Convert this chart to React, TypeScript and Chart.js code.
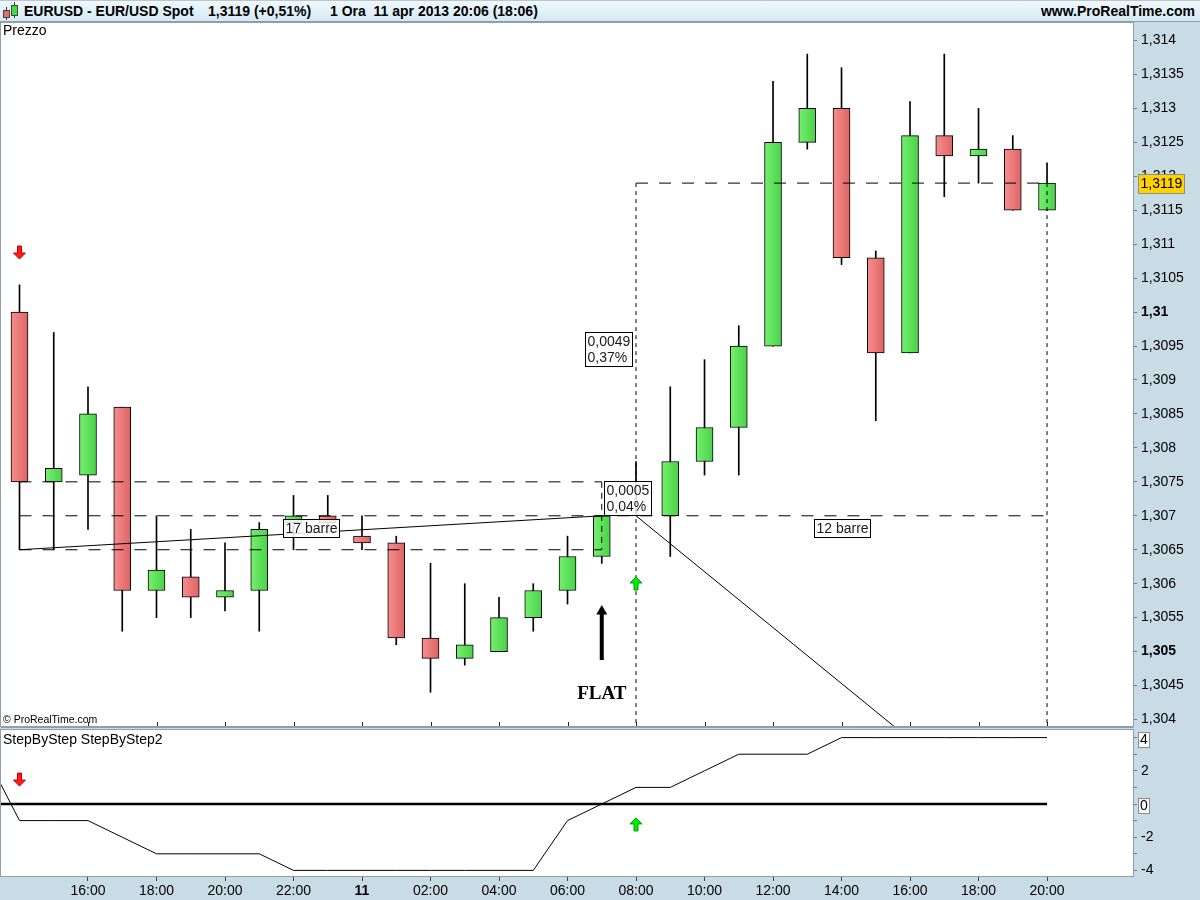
import React, { useEffect, useRef } from 'react';
import { Chart, registerables } from 'chart.js';

Chart.register(...registerables);

// ---------------- DATA ----------------
// hours counted from 10 Apr 2013 00:00 (24 = 11 Apr 00:00)
const hours = [14, 15, 16, 17, 18, 19, 20, 21, 22, 23, 24, 25, 26, 27, 28, 29, 30, 31, 32, 33, 34, 35, 36, 37, 38, 39, 40, 41, 42, 43, 44];
const opens = [1.3100, 1.3075, 1.3076, 1.3086, 1.3059, 1.3061, 1.3058, 1.3059, 1.3069, 1.3070, 1.3067, 1.3066, 1.3052, 1.3049, 1.3050, 1.3055, 1.3059, 1.3064, 1.3070, 1.3070, 1.3078, 1.3083, 1.3095, 1.3125, 1.3130, 1.3108, 1.3094, 1.3126, 1.3123, 1.3124, 1.3115];
const highs = [1.3104, 1.3097, 1.3089, 1.3086, 1.3070, 1.3068, 1.3066, 1.3069, 1.3073, 1.3073, 1.3070, 1.3067, 1.3063, 1.3060, 1.3058, 1.3060, 1.3067, 1.3070, 1.3078, 1.3089, 1.3093, 1.3098, 1.3134, 1.3138, 1.3136, 1.3109, 1.3131, 1.3138, 1.3130, 1.3126, 1.3122];
const lows = [1.3065, 1.3065, 1.3068, 1.3053, 1.3055, 1.3055, 1.3056, 1.3053, 1.3065, 1.3068, 1.3065, 1.3051, 1.3044, 1.3048, 1.3050, 1.3053, 1.3057, 1.3063, 1.3070, 1.3064, 1.3076, 1.3076, 1.3095, 1.3124, 1.3107, 1.3084, 1.3094, 1.3117, 1.3119, 1.3115, 1.3115];
const closes = [1.3075, 1.3077, 1.3085, 1.3059, 1.3062, 1.3058, 1.3059, 1.3068, 1.3070, 1.3069, 1.3066, 1.3052, 1.3049, 1.3051, 1.3055, 1.3059, 1.3064, 1.3070, 1.3070, 1.3078, 1.3083, 1.3095, 1.3125, 1.3130, 1.3108, 1.3094, 1.3126, 1.3123, 1.3124, 1.3115, 1.3119];

const indicatorHours = [13, 14, 15, 16, 17, 18, 19, 20, 21, 22, 23, 24, 25, 26, 27, 28, 29, 30, 31, 32, 33, 34, 35, 36, 37, 38, 39, 40, 41, 42, 43, 44];
const indicatorValues = [3, -1, -1, -1, -2, -3, -3, -3, -3, -4, -4, -4, -4, -4, -4, -4, -4, -1, 0, 1, 1, 2, 3, 3, 3, 4, 4, 4, 4, 4, 4, 4];

const priceTicks = [1.304, 1.3045, 1.305, 1.3055, 1.306, 1.3065, 1.307, 1.3075, 1.308, 1.3085, 1.309, 1.3095, 1.31, 1.3105, 1.311, 1.3115, 1.312, 1.3125, 1.313, 1.3135, 1.314];
const boldPriceTicks = [1.31, 1.305];
const timeTicks = [16, 18, 20, 22, 24, 26, 28, 30, 32, 34, 36, 38, 40, 42, 44];
const timeTickLabels = ['16:00', '18:00', '20:00', '22:00', '11', '02:00', '04:00', '06:00', '08:00', '10:00', '12:00', '14:00', '16:00', '18:00', '20:00'];
const indicatorTicks = [-4, -3, -2, -1, 0, 1, 2, 3, 4];
const indicatorLabelled = [-4, -2, 2];
const indicatorBoxed = [4, 0];

// drawings on the price panel
const trendLine1 = [[14, 1.3065], [31, 1.3070]];
const trendLine2 = [[32, 1.3070], [44, 1.30206]];
const rangeHigh = 1.3075;
const rangeMid = 1.3070;
const rangeLow = 1.3065;
const rangeStart = 14;
const rangeEnd = 31;
const measureStart = 32;
const measureEnd = 44;
const lastPrice = 1.3119;
const lastPriceLabel = '1,3119';
const sellSignalHour = 14;
const buySignalHour = 32;

// ---------------- LAYOUT CONSTANTS ----------------
const FONT = "'Liberation Sans', Arial, sans-serif";
const X_MIN = 13.46;
const X_MAX = 46.51;
const P_MIN = 1.303904;
const P_MAX = 1.314258;
const I_MIN = -4.337;
const I_MAX = 4.458;
const AXIS_BG = '#c9dce6';
const BORDER = '#8fa0ab';

const fmtPrice = (v: number) => Number(v).toFixed(4).replace(/0+$/, '').replace(/\.$/, '').replace('.', ',');

function bodyColor(c: any) {
  const i = c.dataIndex;
  const up = closes[i] >= opens[i];
  const solid = up ? '#5fe25f' : '#ec7878';
  const chart = c.chart;
  const xs = chart && chart.scales ? chart.scales.x : null;
  if (c.type !== 'data' || !xs || i === undefined) return solid;
  const px = xs.getPixelForValue(hours[i]);
  if (!isFinite(px)) return solid;
  const g = chart.ctx.createLinearGradient(px - 8, 0, px + 8, 0);
  if (up) {
    g.addColorStop(0, '#74ef6c');
    g.addColorStop(1, '#4bd24b');
  } else {
    g.addColorStop(0, '#f78c8c');
    g.addColorStop(1, '#dd6666');
  }
  return g;
}

function drawSignalArrow(ctx: CanvasRenderingContext2D, x: number, yTip: number, dir: number, fill: string, stroke: string) {
  const yTail = yTip - dir * 13;
  const yNeck = yTip - dir * 6;
  ctx.beginPath();
  ctx.moveTo(x - 2, yTail);
  ctx.lineTo(x + 2, yTail);
  ctx.lineTo(x + 2, yNeck);
  ctx.lineTo(x + 6, yNeck);
  ctx.lineTo(x, yTip);
  ctx.lineTo(x - 6, yNeck);
  ctx.lineTo(x - 2, yNeck);
  ctx.closePath();
  ctx.fillStyle = fill;
  ctx.fill();
  ctx.strokeStyle = stroke;
  ctx.lineWidth = 1;
  ctx.stroke();
}

function measureBox(ctx: CanvasRenderingContext2D, lines: string[]) {
  ctx.font = '14px ' + FONT;
  return { w: Math.round(Math.max(...lines.map((l) => ctx.measureText(l).width)) + 4), h: lines.length * 16 + 2 };
}

function boxLabel(ctx: CanvasRenderingContext2D, lines: string[], left: number, top: number) {
  const { w, h } = measureBox(ctx, lines);
  const lh = 16;
  const L = Math.round(left);
  const T = Math.round(top);
  ctx.fillStyle = 'rgba(255,255,255,0.85)';
  ctx.fillRect(L, T, w, h);
  ctx.strokeStyle = '#000';
  ctx.lineWidth = 1;
  ctx.strokeRect(L + 0.5, T + 0.5, w, h);
  ctx.fillStyle = '#1a1a1a';
  ctx.textAlign = 'left';
  ctx.textBaseline = 'middle';
  lines.forEach((l, i) => ctx.fillText(l, L + 2.5, T + 1 + lh * i + lh / 2 + 1));
}

const pricePlugin = {
  id: 'priceDecor',
  beforeDraw(chart: any) {
    const { ctx, chartArea: a } = chart;
    ctx.save();
    ctx.fillStyle = '#fff';
    ctx.fillRect(a.left, a.top, a.right - a.left, a.bottom - a.top);
    ctx.restore();
  },
  afterDatasetsDraw(chart: any) {
    const { ctx, chartArea: a } = chart;
    const xs = chart.scales.x;
    const ys = chart.scales.y;
    const X = (h: number) => xs.getPixelForValue(h);
    const Y = (p: number) => ys.getPixelForValue(p);
    ctx.save();
    ctx.beginPath();
    ctx.rect(a.left, a.top, a.right - a.left, a.bottom - a.top);
    ctx.clip();

    const l17 = ['17 barre'];
    const m17 = measureBox(ctx, l17);
    boxLabel(ctx, l17, X(22.5) - m17.w / 2, Y(1.30682) - m17.h / 2);
    const l12 = ['12 barre'];
    const m12 = measureBox(ctx, l12);
    boxLabel(ctx, l12, X(38) - m12.w / 2, Y(1.30682) - m12.h / 2);
    boxLabel(ctx, ['0,0005', '0,04%'], X(rangeEnd) + 2, Y(rangeHigh) - 1);
    const l49 = ['0,0049', '0,37%'];
    const m49 = measureBox(ctx, l49);
    boxLabel(ctx, l49, X(measureStart) - 4 - m49.w, Y((lastPrice + rangeMid) / 2) - m49.h / 2);

    drawSignalArrow(ctx, X(sellSignalHour), Y(1.310782), 1, '#ff1a1a', '#c00000');
    drawSignalArrow(ctx, X(buySignalHour), Y(1.306099), -1, '#00ee00', '#009a00');

    const fx = X(31);
    const tipY = Y(1.305686);
    const neckY = Y(1.305554);
    const baseY = Y(1.304876);
    ctx.fillStyle = '#000';
    ctx.fillRect(fx - 2, neckY, 4, baseY - neckY);
    ctx.beginPath();
    ctx.moveTo(fx, tipY);
    ctx.lineTo(fx + 5.5, neckY + 0.5);
    ctx.lineTo(fx - 5.5, neckY + 0.5);
    ctx.closePath();
    ctx.fill();
    ctx.font = 'bold 19px "Liberation Serif", "Times New Roman", serif';
    ctx.textAlign = 'center';
    ctx.textBaseline = 'alphabetic';
    ctx.fillText('FLAT', fx, Y(1.304302));

    ctx.restore();
  },
  afterDraw(chart: any) {
    const { ctx, chartArea: a } = chart;
    const xs = chart.scales.x;
    const ys = chart.scales.y;
    ctx.save();
    ctx.strokeStyle = '#222';
    ctx.lineWidth = 1;
    timeTicks.forEach((h) => {
      const x = Math.round(xs.getPixelForValue(h)) + 0.5;
      ctx.beginPath();
      ctx.moveTo(x, a.bottom - 4);
      ctx.lineTo(x, a.bottom);
      ctx.stroke();
    });
    ctx.strokeStyle = BORDER;
    ctx.strokeRect(a.left - 0.5, a.top - 0.5, a.right - a.left + 1, a.bottom - a.top + 1);
    ctx.beginPath();
    ctx.moveTo(a.left, a.bottom + 1.5);
    ctx.lineTo(a.right + 0.5, a.bottom + 1.5);
    ctx.stroke();
    const y = Math.round(ys.getPixelForValue(lastPrice));
    const bx = a.right + 5;
    ctx.fillStyle = '#ffd200';
    ctx.fillRect(bx, y - 9, 46, 19);
    ctx.strokeStyle = '#8c8c8c';
    ctx.strokeRect(bx + 0.5, y - 8.5, 46, 19);
    ctx.fillStyle = '#000';
    ctx.font = '14px ' + FONT;
    ctx.textAlign = 'left';
    ctx.textBaseline = 'middle';
    ctx.fillText(lastPriceLabel, bx + 2.5, y + 1);
    ctx.restore();
  },
};

const indPlugin = {
  id: 'indDecor',
  beforeDraw(chart: any) {
    const { ctx, chartArea: a } = chart;
    ctx.save();
    ctx.fillStyle = '#fff';
    ctx.fillRect(a.left, a.top, a.right - a.left, a.bottom - a.top);
    ctx.restore();
  },
  afterDatasetsDraw(chart: any) {
    const { ctx } = chart;
    const X = (h: number) => chart.scales.x.getPixelForValue(h);
    const Y = (v: number) => chart.scales.y.getPixelForValue(v);
    ctx.save();
    drawSignalArrow(ctx, X(sellSignalHour), Y(1.08), 1, '#ff1a1a', '#c00000');
    drawSignalArrow(ctx, X(buySignalHour), Y(-0.84), -1, '#00ee00', '#009a00');
    ctx.restore();
  },
  afterDraw(chart: any) {
    const { ctx, chartArea: a } = chart;
    const ys = chart.scales.y;
    ctx.save();
    ctx.strokeStyle = BORDER;
    ctx.lineWidth = 1;
    ctx.strokeRect(a.left - 0.5, a.top - 0.5, a.right - a.left + 1, a.bottom - a.top + 1);
    ctx.font = '14px ' + FONT;
    ctx.textAlign = 'left';
    ctx.textBaseline = 'middle';
    indicatorBoxed.forEach((v) => {
      const y = Math.round(ys.getPixelForValue(v)) + 1;
      const bx = a.right + 5;
      const w = Math.round(ctx.measureText(String(v)).width) + 3;
      ctx.fillStyle = '#fff';
      ctx.fillRect(bx, y - 7, w, 15);
      ctx.strokeStyle = '#8c8c8c';
      ctx.strokeRect(bx + 0.5, y - 6.5, w, 15);
      ctx.fillStyle = '#000';
      ctx.fillText(String(v), bx + 2, y + 1);
    });
    ctx.restore();
  },
};

const dashedLine = (pts: number[][], dash: number[], width = 1) => ({
  type: 'line' as const,
  data: pts.map((p) => ({ x: p[0], y: p[1] })),
  borderColor: '#000',
  borderWidth: width,
  borderDash: dash,
  pointRadius: 0,
  tension: 0,
  fill: false,
  order: 0,
});

export default function App() {
  const priceRef = useRef<HTMLCanvasElement>(null);
  const indRef = useRef<HTMLCanvasElement>(null);

  useEffect(() => {
    Chart.defaults.font.family = FONT;
    Chart.defaults.font.size = 14;
    Chart.defaults.color = '#000';

    const pc = new Chart(priceRef.current as HTMLCanvasElement, {
      type: 'bar',
      data: {
        datasets: [
          dashedLine([[rangeStart, rangeHigh], [rangeEnd, rangeHigh]], [12, 11]),
          dashedLine([[rangeStart, rangeLow], [rangeEnd, rangeLow]], [12, 11]),
          dashedLine([[rangeEnd, rangeHigh], [rangeEnd, rangeLow]], [6, 5]),
          dashedLine([[rangeStart, rangeMid], [measureEnd, rangeMid]], [12, 11]),
          dashedLine([[measureStart, lastPrice], [measureEnd, lastPrice]], [12, 11]),
          dashedLine([[measureStart, lastPrice], [measureStart, 1.3035]], [4, 4]),
          dashedLine([[measureEnd, lastPrice], [measureEnd, 1.3035]], [4, 4]),
          dashedLine(trendLine1, []),
          dashedLine(trendLine2, []),
          {
            label: 'wicks',
            data: hours.map((h, i) => ({ x: h, y: [lows[i], highs[i]] })),
            backgroundColor: '#000',
            borderWidth: 0,
            barThickness: 1,
            grouped: false,
            order: 2,
          } as any,
          {
            label: 'bodies',
            data: hours.map((h, i) => ({ x: h, y: [opens[i], closes[i]] })),
            backgroundColor: bodyColor,
            borderColor: '#000',
            borderWidth: 1,
            borderSkipped: false,
            barThickness: 17,
            grouped: false,
            order: 1,
          } as any,
        ] as any,
      },
      options: {
        responsive: false,
        animation: false,
        events: [],
        layout: { padding: { left: 1, top: 1, right: 0, bottom: 2 }, autoPadding: false } as any,
        plugins: { legend: { display: false }, tooltip: { enabled: false } },
        scales: {
          x: { type: 'linear', min: X_MIN, max: X_MAX, offset: false, display: false },
          y: {
            type: 'linear',
            position: 'right',
            min: P_MIN,
            max: P_MAX,
            afterBuildTicks: (s: any) => {
              s.ticks = priceTicks.map((v) => ({ value: v }));
            },
            afterFit: (s: any) => {
              s.width = 67;
              s.paddingTop = 0;
              s.paddingBottom = 0;
            },
            grid: { drawOnChartArea: false, tickLength: 4, color: '#7a7a7a' },
            border: { display: false },
            ticks: {
              autoSkip: false,
              padding: 4,
              color: '#000',
              callback: (v: any) => fmtPrice(Number(v)),
              font: (c: any) => ({
                family: FONT,
                size: 14,
                weight: c.tick && boldPriceTicks.some((b) => Math.abs(b - c.tick.value) < 1e-7) ? 'bold' : 'normal',
              }),
            },
          } as any,
        },
      },
      plugins: [pricePlugin],
    });

    const ic = new Chart(indRef.current as HTMLCanvasElement, {
      type: 'line',
      data: {
        datasets: [
          {
            data: indicatorHours.map((h, i) => ({ x: h, y: indicatorValues[i] })),
            borderColor: '#000',
            borderWidth: 1,
            pointRadius: 0,
            tension: 0,
          },
          {
            data: [{ x: X_MIN, y: 0 }, { x: measureEnd, y: 0 }],
            borderColor: '#000',
            borderWidth: 2.5,
            pointRadius: 0,
            tension: 0,
          },
        ] as any,
      },
      options: {
        responsive: false,
        animation: false,
        events: [],
        layout: { padding: { left: 1, top: 2, right: 0, bottom: 0 }, autoPadding: false } as any,
        plugins: { legend: { display: false }, tooltip: { enabled: false } },
        scales: {
          x: {
            type: 'linear',
            position: 'bottom',
            min: X_MIN,
            max: X_MAX,
            afterBuildTicks: (s: any) => {
              s.ticks = timeTicks.map((v) => ({ value: v }));
            },
            afterFit: (s: any) => {
              s.height = 24;
              s.paddingLeft = 0;
              s.paddingRight = 0;
            },
            grid: { drawOnChartArea: false, tickLength: 5, color: '#444' },
            border: { display: false },
            ticks: {
              autoSkip: false,
              maxRotation: 0,
              padding: 2,
              color: '#000',
              callback: (_v: any, i: number) => timeTickLabels[i],
              font: (c: any) => ({ family: FONT, size: 14, weight: c.tick && c.tick.value === 24 ? 'bold' : 'normal' }),
            },
          } as any,
          y: {
            type: 'linear',
            position: 'right',
            min: I_MIN,
            max: I_MAX,
            afterBuildTicks: (s: any) => {
              s.ticks = indicatorTicks.map((v) => ({ value: v }));
            },
            afterFit: (s: any) => {
              s.width = 67;
              s.paddingTop = 0;
              s.paddingBottom = 0;
            },
            grid: { drawOnChartArea: false, tickLength: 4, color: '#7a7a7a' },
            border: { display: false },
            ticks: {
              autoSkip: false,
              padding: 4,
              color: '#000',
              font: { family: FONT, size: 14 },
              callback: (v: any) => (indicatorLabelled.includes(Number(v)) ? String(v) : ''),
            },
          } as any,
        },
      },
      plugins: [indPlugin],
    });

    return () => {
      pc.destroy();
      ic.destroy();
    };
  }, []);

  const txt: React.CSSProperties = { position: 'absolute', whiteSpace: 'pre', color: '#000' };

  return (
    <div
      style={{
        position: 'fixed',
        left: 0,
        top: 0,
        width: 1200,
        height: 900,
        background: AXIS_BG,
        fontFamily: FONT,
        overflow: 'hidden',
      }}
    >
      <div
        style={{
          position: 'absolute',
          left: 0,
          top: 0,
          width: 1200,
          height: 22,
          boxSizing: 'border-box',
          borderTop: '1px solid #b9c6cc',
          borderBottom: '1px solid #8d9ea8',
          background: 'linear-gradient(to bottom, #f0f9fd 0%, #d3e9f3 100%)',
        }}
      >
        <div style={{ position: 'absolute', left: 6, top: 6, width: 1, height: 13, background: '#333' }} />
        <div style={{ position: 'absolute', left: 3, top: 9, width: 5, height: 6, background: '#e86a6a', border: '1px solid #444' }} />
        <div style={{ position: 'absolute', left: 14, top: 1, width: 1, height: 16, background: '#333' }} />
        <div style={{ position: 'absolute', left: 11, top: 4, width: 5, height: 9, background: '#43d943', border: '1px solid #444' }} />
        <span style={{ ...txt, left: 24, top: 0, lineHeight: '20px', fontSize: 14, fontWeight: 'bold' }}>EURUSD - EUR/USD Spot</span>
        <span style={{ ...txt, left: 208, top: 0, lineHeight: '20px', fontSize: 14, fontWeight: 'bold' }}>1,3119 (+0,51%)</span>
        <span style={{ ...txt, left: 330, top: 0, lineHeight: '20px', fontSize: 14, fontWeight: 'bold' }}>1 Ora  11 apr 2013 20:06 (18:06)</span>
        <span style={{ ...txt, right: 5, top: 0, lineHeight: '20px', fontSize: 14, fontWeight: 'bold' }}>www.ProRealTime.com</span>
      </div>
      <canvas ref={priceRef} width={1200} height={706} style={{ position: 'absolute', left: 0, top: 22, display: 'block' }} />
      <canvas ref={indRef} width={1200} height={172} style={{ position: 'absolute', left: 0, top: 728, display: 'block' }} />
      <span style={{ ...txt, left: 3, top: 22, lineHeight: '16px', fontSize: 14 }}>Prezzo</span>
      <span style={{ ...txt, left: 3, top: 712, lineHeight: '14px', fontSize: 10.5 }}>© ProRealTime.com</span>
      <span style={{ ...txt, left: 3, top: 731, lineHeight: '17px', fontSize: 14 }}>StepByStep StepByStep2</span>
    </div>
  );
}
